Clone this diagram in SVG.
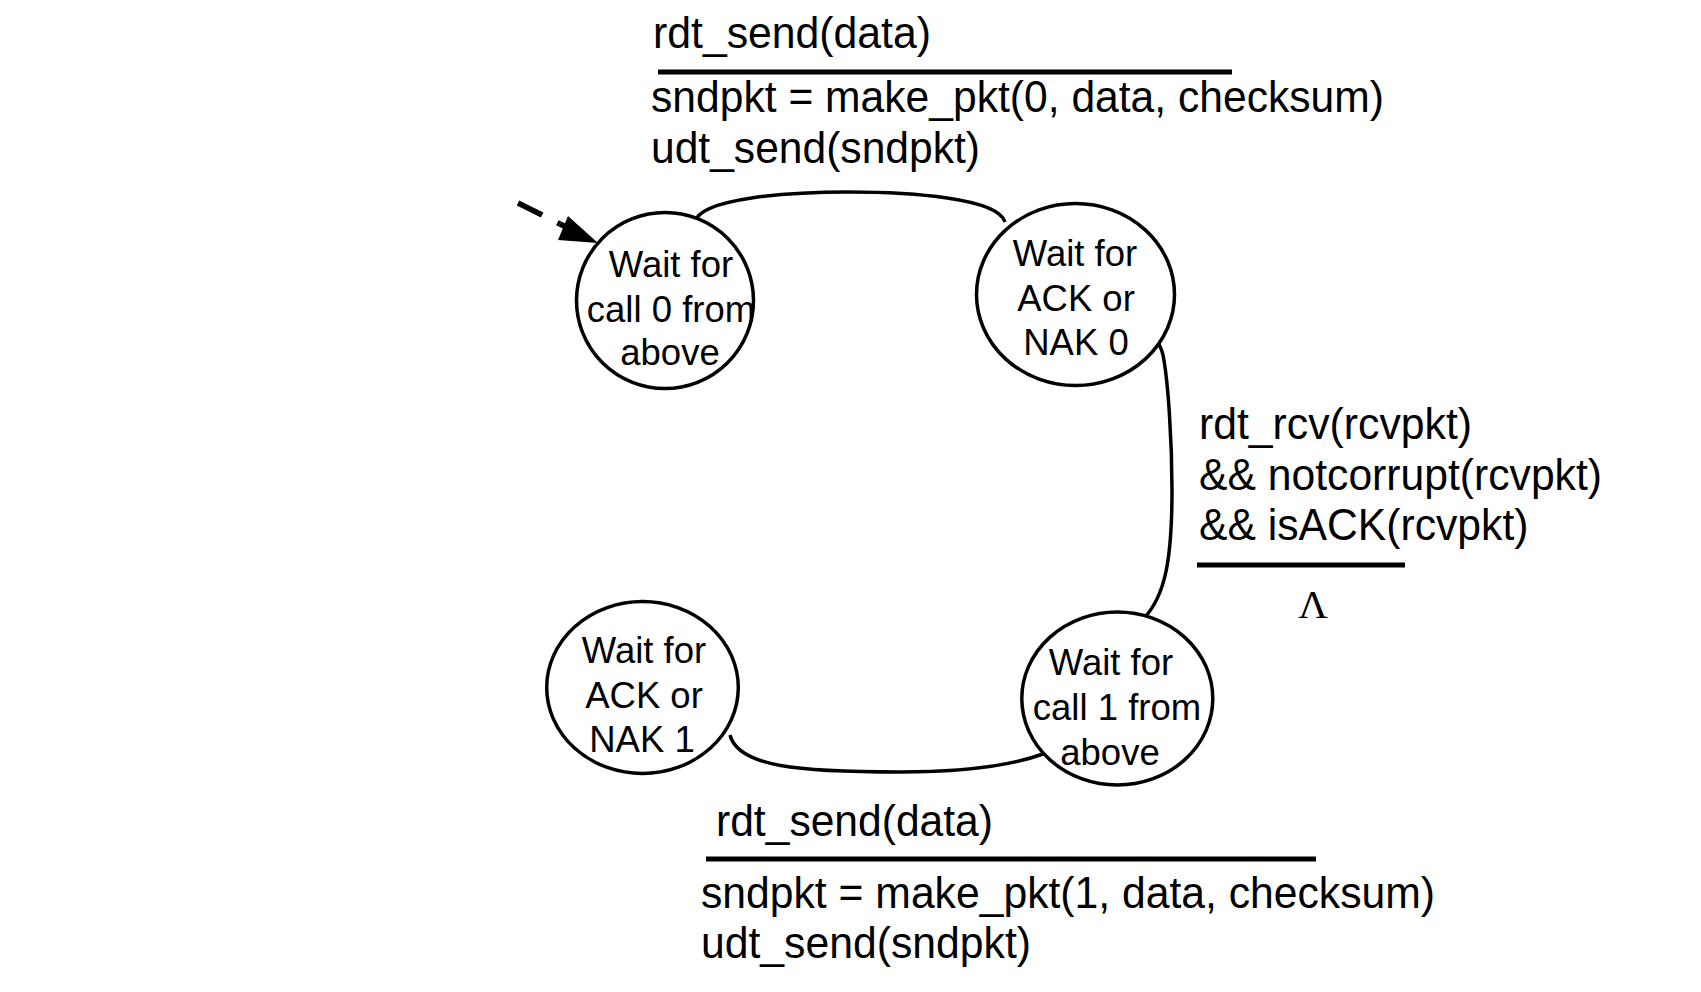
<svg xmlns="http://www.w3.org/2000/svg" width="1701" height="992" viewBox="0 0 1701 992">
<style>
.state ellipse{fill:#fff;stroke:#000;stroke-width:3.5}
.state text{font-family:"Liberation Sans",Arial,sans-serif;font-size:36.5px;text-anchor:middle;fill:#000}
.conn path{fill:none;stroke:#000;stroke-width:3.5}
.conn path.init{stroke-width:5.5}
.lbl text{font-family:"Liberation Sans",Arial,sans-serif;font-size:44.5px;fill:#000}
.bar{stroke:#000;stroke-width:5}
.lbl text.lam{font-family:"Liberation Serif","Times New Roman",serif;font-size:41px;fill:#000;text-anchor:middle}
</style>
<rect width="1701" height="992" fill="#fff"/>
<g id="connectors" class="conn">
<path class="init" d="M518,203 L560,224" stroke-dasharray="27,17"/>
<path class="init" d="M560,224 L568,228"/>
<polygon points="598,243 568,216 558,240" fill="#000"/>
<path d="M695,222 C700,198 790,192 848,192 C910,192 998,198 1005,222"/>
<path d="M1142,330 C1152,334 1160,342 1163,355 C1168,380 1172,440 1172,490 C1172,560 1165,595 1145,617"/>
<path d="M730,735 C738,767 800,772 900,772 C960,772 1010,766 1043,754"/>
</g>
<g id="s0" class="state">
<ellipse cx="665" cy="300.5" rx="88.5" ry="88"/>
<text x="671" y="277">Wait for</text>
<text x="671" y="322">call 0 from</text>
<text x="670" y="365">above</text>
</g>
<g id="s1" class="state">
<ellipse cx="1075.5" cy="294.5" rx="99" ry="91"/>
<text x="1075" y="266">Wait for</text>
<text x="1076" y="311">ACK or</text>
<text x="1076" y="355">NAK 0</text>
</g>
<g id="s3" class="state">
<ellipse cx="642.5" cy="687.5" rx="95.8" ry="86"/>
<text x="644" y="663">Wait for</text>
<text x="644" y="708">ACK or</text>
<text x="642" y="752">NAK 1</text>
</g>
<g id="s2" class="state">
<ellipse cx="1117.3" cy="698.5" rx="95.5" ry="86.5"/>
<text x="1111" y="675">Wait for</text>
<text x="1117" y="720">call 1 from</text>
<text x="1110" y="765">above</text>
</g>
<g id="label-top" class="lbl">
<text x="653" y="48" textLength="278" lengthAdjust="spacingAndGlyphs">rdt_send(data)</text>
<line class="bar" x1="658" y1="72" x2="1232" y2="72"/>
<text x="651" y="112" textLength="733" lengthAdjust="spacingAndGlyphs">sndpkt = make_pkt(0, data, checksum)</text>
<text x="651" y="163" textLength="329" lengthAdjust="spacingAndGlyphs">udt_send(sndpkt)</text>
</g>
<g id="label-right" class="lbl">
<text x="1199" y="439" textLength="273" lengthAdjust="spacingAndGlyphs">rdt_rcv(rcvpkt)</text>
<text x="1199" y="490" textLength="403" lengthAdjust="spacingAndGlyphs">&amp;&amp; notcorrupt(rcvpkt)</text>
<text x="1199" y="540" textLength="329.5" lengthAdjust="spacingAndGlyphs">&amp;&amp; isACK(rcvpkt)</text>
<line class="bar" x1="1197" y1="565" x2="1405" y2="565"/>
<text class="lam" x="1313" y="618">Λ</text>
</g>
<g id="label-bottom" class="lbl">
<text x="716" y="836" textLength="277" lengthAdjust="spacingAndGlyphs">rdt_send(data)</text>
<line class="bar" x1="706" y1="859" x2="1316" y2="859"/>
<text x="701" y="908" textLength="734" lengthAdjust="spacingAndGlyphs">sndpkt = make_pkt(1, data, checksum)</text>
<text x="701" y="958" textLength="330" lengthAdjust="spacingAndGlyphs">udt_send(sndpkt)</text>
</g>
</svg>
